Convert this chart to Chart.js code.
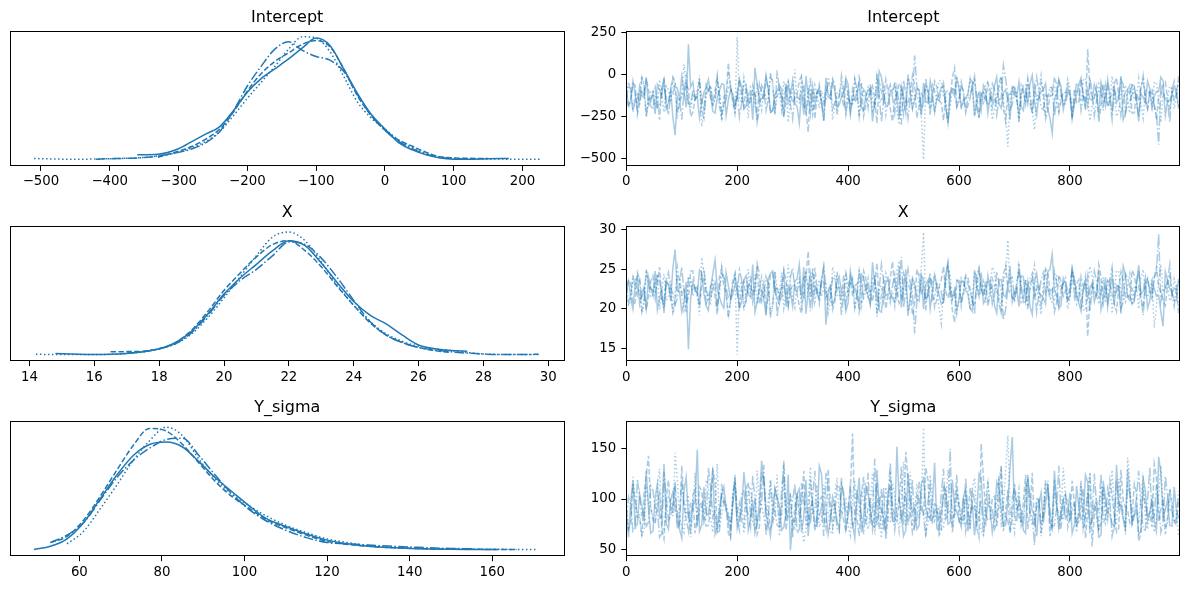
<!DOCTYPE html>
<html><head><meta charset="utf-8">
<script src="https://cdn.jsdelivr.net/npm/chart.js@4.4.0/dist/chart.umd.min.js"></script>
<style>
html,body{margin:0;padding:0;background:#fff;width:1189px;height:590px;overflow:hidden;position:relative}
canvas{position:absolute}
</style></head><body>
<canvas id="p0"></canvas><canvas id="p1"></canvas><canvas id="p2"></canvas>
<canvas id="p3"></canvas><canvas id="p4"></canvas><canvas id="p5"></canvas>
<script>
// ---------------- DATA ----------------
const paramNames = ["Intercept", "X", "Y_sigma"];
const drawStep = 8; // "A" arrays: draws 0,8,16,... ; "B" arrays: draws 4,12,20,...

// KDE grids and per-chain densities (relative, null = outside chain's range)
const interceptKdeX = [-510,-480,-450,-420,-390,-360,-330,-300,-280,-260,-240,-220,-200,-180,-160,-140,-120,-100,-80,-60,-40,-20,0,20,40,60,80,100,120,150,180,225];
const interceptKde0 = [null,null,null,null,null,0.04,0.045,0.09,0.15,0.21,0.27,0.40,0.55,0.66,0.74,0.82,0.91,0.99,0.93,0.74,0.54,0.37,0.25,0.14,0.08,0.04,0.015,0.005,0.004,0.008,0.01,null];
const interceptKde1 = [0.01,0.006,0.004,0.006,0.01,0.015,0.03,0.06,0.10,0.15,0.23,0.36,0.50,0.63,0.76,0.90,1.0,0.99,0.88,0.68,0.47,0.34,0.25,0.16,0.10,0.05,0.02,0.01,0.007,0.006,0.005,0.004];
const interceptKde2 = [null,null,null,null,null,null,0.02,0.07,0.11,0.17,0.25,0.39,0.56,0.70,0.80,0.87,0.94,0.97,0.92,0.74,0.52,0.36,0.24,0.16,0.11,0.06,0.025,0.015,0.012,0.01,null,null];
const interceptKde3 = [null,null,null,0.005,0.01,0.015,0.03,0.06,0.09,0.14,0.23,0.40,0.60,0.76,0.90,0.96,0.89,0.84,0.81,0.72,0.53,0.36,0.24,0.15,0.09,0.045,0.02,0.01,0.005,null,null,null];

const xKdeX = [14.2,14.8,15.5,16,16.5,17,17.5,18,18.5,19,19.5,20,20.5,21,21.5,22,22.5,23,23.5,24,24.5,25,25.5,26,26.5,27,27.5,28,28.5,29,29.7];
const xKde0 = [null,0.012,0.006,0.004,0.006,0.012,0.025,0.05,0.10,0.19,0.33,0.49,0.62,0.73,0.84,0.92,0.88,0.74,0.58,0.43,0.32,0.25,0.16,0.08,0.05,0.035,0.03,null,null,null,null];
const xKde1 = [0.005,0.004,0.003,0.003,0.005,0.012,0.025,0.05,0.09,0.17,0.30,0.46,0.63,0.80,0.95,0.99,0.92,0.75,0.56,0.40,0.27,0.17,0.11,0.07,0.05,0.035,0.02,0.008,0.004,0.003,0.004];
const xKde2 = [null,null,null,null,0.025,0.027,0.03,0.05,0.10,0.20,0.35,0.52,0.66,0.79,0.89,0.92,0.84,0.71,0.55,0.40,0.26,0.16,0.10,0.06,0.035,0.02,null,null,null,null,null];
const xKde3 = [null,null,null,null,null,0.015,0.025,0.05,0.09,0.18,0.32,0.48,0.60,0.69,0.80,0.91,0.89,0.78,0.62,0.44,0.27,0.16,0.10,0.06,0.04,0.025,0.015,0.007,0.004,0.004,0.005];

const sigmaKdeX = [49,53,57,61,65,69,73,77,81,85,89,93,97,101,105,110,115,120,125,130,135,140,145,150,155,161,166,171];
const sigmaKde0 = [0.005,0.03,0.09,0.22,0.41,0.60,0.76,0.85,0.87,0.83,0.71,0.58,0.47,0.36,0.26,0.19,0.13,0.08,0.05,0.03,0.02,0.012,0.008,0.006,0.005,0.004,null,null];
const sigmaKde1 = [null,null,0.05,0.15,0.33,0.52,0.72,0.88,0.99,0.92,0.73,0.57,0.45,0.36,0.28,0.20,0.14,0.09,0.06,0.035,0.022,0.015,0.01,0.008,0.007,0.006,0.005,0.004];
const sigmaKde2 = [null,0.06,0.11,0.24,0.43,0.64,0.84,0.98,0.96,0.85,0.70,0.55,0.43,0.34,0.25,0.18,0.12,0.07,0.045,0.03,0.02,0.015,0.01,0.008,0.006,0.005,0.004,null];
const sigmaKde3 = [null,0.06,0.12,0.22,0.40,0.58,0.72,0.82,0.89,0.90,0.76,0.60,0.45,0.33,0.24,0.16,0.10,0.06,0.05,0.04,0.032,0.025,0.018,0.013,0.01,null,null,null];

// Trace values, 4 chains; A = draws 0,8,16..., B = draws 4,12,20...
const interceptTrace0A = [-95,-160,-120,-70,-140,-185,-110,-60,-130,-205,-90,-362,-150,-100,180,-45,-135,-170,-85,-120,-230,-95,-60,-150,-115,
 -140,-75,-190,-105,40,-160,-125,-85,-215,-100,-150,-55,-120,-175,-290,-240,-130,-70,-110,-165,-20,-135,-95,-180,-115,
 -60,-145,-100,-200,-125,-80,-155,20,-120,-185,-95,-140,-70,-230,-110,-155,-90,-50,-170,-120,-145,-75,-195,-105,-130,
 -85,-160,-115,-40,-140,-210,-95,-125,-65,-175,-110,-150,-80,-135,-190,-100,-55,-160,-125,-90,-205,-350,-115,-70,-145,
 -100,-175,-60,-130,-90,-155,-110,-45,-185,-120,-80,-140,-270,-95,-60,-150,-115,-170,-85,-130,-100,-40,-160,-120,-90];
const interceptTrace0B = [-180,-40,-210,-125,-15,-165,-235,-90,-20,-170,-255,-130,-10,-195,-75,-150,-260,-105,-30,-220,-140,-55,-245,-95,-180,
 -25,-205,-115,-270,-60,-145,-5,-225,-120,-65,-250,-170,-35,-190,-100,-10,-235,-150,-80,-275,-115,-45,-200,-135,-20,
 -240,-155,-50,-215,-95,-280,-130,-15,-185,-110,-60,-265,-140,0,-205,-85,-245,-160,-40,-225,-120,-70,-290,-100,-25,
 -195,-140,-30,-250,-110,-65,-230,-160,-15,-200,-90,-270,-125,-45,-215,-175,-5,-240,-105,-55,-260,-150,-35,-210,-85,
 -265,-120,-20,-185,-145,-60,-250,-95,-30,-220,-170,-10,-235,-115,-70,-280,-135,-40,-195,-100,-15,-245,-155,-75,-205];
const interceptTrace1A = [-130,-80,-175,-110,-55,-150,-95,-200,-120,-70,-165,-105,-140,60,-185,-115,-90,-310,-125,-65,-145,-100,-180,0,-135,
 222,-160,-110,-75,-195,-130,-85,-150,-60,-120,-210,-100,-140,30,-170,-115,-80,-235,-125,-95,-155,-70,-190,-105,-135,
 -90,-165,-120,-50,-145,-100,-185,-130,-75,-160,-110,-220,-85,-140,-60,-125,-175,-508,-95,-150,-115,-40,-135,-195,-105,
 -70,-150,-125,-95,-180,-110,-55,-140,-205,-100,-160,-430,-85,-130,-65,-170,-115,-330,-90,-145,-120,-60,-185,-105,-135,
 -80,-155,-115,-35,-140,-190,-100,-125,-70,-165,-110,-215,-90,-145,-60,-130,-175,-95,-120,-50,-160,-105,-140,-85,-125];
const interceptTrace1B = [-45,-215,-140,-10,-250,-105,-175,-30,-225,-90,-15,-265,-130,-60,-205,-160,-5,-240,-85,-190,-35,-275,-120,-70,-230,
 -155,-20,-260,-100,-50,-210,-145,10,-235,-115,-40,-285,-95,-170,-25,-245,-130,-65,-200,-160,-15,-270,-110,-55,-220,
 -185,-30,-250,-125,-75,-215,5,-160,-240,-95,-45,-300,-140,-20,-195,-110,-255,-60,-175,-225,-35,-135,-265,-80,-10,
 -205,-150,-25,-245,-100,-180,-50,-270,-120,-15,-230,-165,-70,-290,-105,-40,-210,-145,-5,-255,-125,-60,-220,-175,-30,
 -240,-90,-160,-20,-275,-130,-55,-215,-185,-10,-250,-110,-65,-230,-150,-25,-260,-95,-195,-45,-285,-140,-70,-205,-35];
const interceptTrace2A = [-110,-145,-65,-170,-120,-90,-200,-135,-75,-155,-100,-45,-180,-125,-85,-225,-115,-150,-60,-140,-95,-190,-130,70,-165,
 -105,-135,-80,-175,-120,-55,-150,-95,-210,-130,-70,-160,-110,-140,-35,-185,-344,-100,-125,-165,-85,-145,-60,-115,-195,
 -125,-90,-150,-70,-180,-110,-140,-45,-160,-100,-280,-120,-80,-155,-115,-60,-190,-135,-95,-145,-75,-170,-105,-130,40,
 -150,-100,-185,-65,-130,-115,-165,-90,-140,-50,-200,-120,-80,-155,-105,-175,-135,-70,-145,-95,-215,-125,-60,-160,-110,
 -140,-85,-170,-115,150,-135,-75,-190,-100,-145,-55,-125,-160,-90,-230,-115,-70,-150,-105,-180,-130,-65,-140,-95,-120];
const interceptTrace2B = [-200,-55,-240,-100,-25,-190,-130,-270,-70,-165,-15,-225,-115,-60,-250,-145,-35,-210,-90,-180,-5,-260,-125,-75,-235,
 -30,-195,-150,-65,-280,-110,-20,-230,-140,-85,-255,-45,-170,-120,-10,-215,-95,-265,-60,-185,-135,-25,-245,-105,-50,
 -220,-160,-15,-250,-125,-70,-290,-100,-30,-205,-145,-55,-235,-175,-5,-260,-115,-80,-215,-40,-155,-275,-95,-20,-190,
 -65,-230,-140,-35,-255,-110,-50,-200,-165,-10,-280,-120,-75,-240,-90,-25,-210,-150,-45,-265,-130,-15,-225,-105,-60,
 -250,-170,-30,-215,-80,-140,-285,-55,-195,-120,-20,-245,-100,-65,-230,-160,-35,-205,-85,-270,-125,-45,-220,-150,-10];
const interceptTrace3A = [-150,-95,-130,-180,-70,-140,-115,-200,-85,-160,-125,-50,-145,-105,-175,-90,-135,-215,-110,-65,-155,-120,-185,-80,-140,
 -100,-170,-60,-130,-115,-195,-90,-145,-40,25,-125,-85,-180,-110,-150,-70,-135,-205,-100,-155,-120,-75,-165,-140,-95,
 -130,-175,-85,-145,-110,-55,-190,-120,-160,-95,-135,-80,-300,-115,-150,113,-105,-170,-130,-65,-145,-100,-185,-125,-90,
 -160,-115,-140,-75,-195,-105,-130,-165,-90,-150,55,-120,-180,-110,-140,-60,-170,-125,-95,-210,-135,-85,-155,-115,-175,
 -100,-145,-70,-130,-190,-110,-155,-85,-125,-165,-95,-140,-60,-175,-120,-150,-80,-135,-105,-185,-419,-115,-160,-90,-130];
const interceptTrace3B = [-60,-225,-110,-20,-255,-145,-75,-200,-30,-240,-120,-85,-270,-15,-185,-135,-50,-260,-95,-165,-25,-230,-150,-70,-210,
 -255,-40,-180,-120,-285,-65,-215,-10,-245,-100,-160,-45,-265,-130,-80,-225,-20,-190,-115,-275,-55,-205,-140,-5,-235,
 -170,-30,-250,-90,-200,-145,-15,-280,-110,-60,-230,-175,-35,-260,-125,-70,-215,-20,-240,-100,-155,-50,-295,-85,-195,
 -45,-220,-130,-10,-265,-105,-185,-55,-240,-145,-25,-205,-90,-275,-60,-160,-235,-15,-195,-120,-75,-250,-35,-175,-110,
 -260,-50,-215,-140,-20,-245,-95,-180,-65,-270,-125,-30,-230,-160,-85,-255,-5,-200,-115,-240,-70,-150,-285,-40,-190];

const xTrace0A = [22.4,21.3,23.1,20.6,22.8,24.0,21.7,19.9,22.5,23.6,21.0,27.5,22.2,20.8,14.9,23.4,21.9,24.5,20.4,22.7,26.2,21.5,20.1,22.9,21.8,
 23.3,20.9,24.2,21.6,19.6,22.6,21.2,23.8,24.8,21.4,22.9,20.3,22.1,23.5,25.6,25.3,22.4,20.7,21.9,23.7,18.0,22.8,21.3,24.1,22.0,
 20.8,23.0,21.7,24.4,22.3,20.5,23.2,19.8,22.0,23.9,21.4,22.7,20.2,25.0,21.6,23.1,21.0,20.0,23.6,22.2,22.9,20.6,24.3,21.5,22.5,
 21.2,23.4,21.9,19.7,22.8,24.6,21.3,22.4,20.4,23.7,21.8,23.0,20.9,22.6,24.2,21.1,20.3,23.5,22.1,21.4,24.7,26.9,21.7,20.5,23.2,
 21.6,23.8,20.7,22.5,21.3,23.3,22.0,19.9,24.0,22.3,20.8,22.9,25.4,21.5,20.6,23.1,21.9,23.9,21.0,22.6,21.7,17.8,23.6,22.2,21.1];
const xTrace0B = [23.5,20.0,24.1,21.9,19.9,22.7,24.8,21.4,19.5,23.1,25.2,22.3,19.6,23.4,21.2,22.5,24.9,21.9,19.8,24.4,22.6,20.6,24.6,21.3,23.1,
 20.1,23.7,21.8,25.6,20.9,22.4,19.2,24.5,22.1,20.6,24.7,22.9,20.3,23.8,21.4,19.4,24.4,22.8,21.3,25.2,21.7,20.5,23.6,22.2,19.7,
 24.8,22.6,20.4,24.0,21.7,25.9,22.1,19.6,23.3,21.9,20.8,25.3,22.5,19.1,23.9,21.2,24.6,23.0,20.0,24.3,21.8,21.0,25.7,21.5,19.8,
 23.6,22.3,20.1,24.9,21.6,20.7,24.2,22.8,19.5,23.7,21.5,25.4,22.2,20.3,24.1,23.4,19.3,24.5,21.7,20.6,25.0,22.4,20.0,23.9,21.1,
 25.1,21.9,19.7,23.5,22.6,20.9,24.8,21.3,20.2,24.3,23.0,19.4,24.4,21.8,21.0,25.5,22.2,20.1,23.4,21.6,19.6,24.7,22.6,21.1,23.8];
const xTrace1A = [22.6,21.0,23.9,22.2,20.5,23.3,21.8,24.4,22.4,21.1,23.6,21.9,22.9,19.8,24.1,22.3,21.6,26.5,22.5,20.7,23.2,21.7,24.0,19.3,23.0,
 14.2,23.5,22.1,21.2,24.3,22.7,21.4,23.1,20.6,22.4,24.6,21.8,23.0,20.2,23.8,22.1,21.3,25.2,22.6,21.6,23.4,20.9,24.2,21.9,22.8,
 21.5,23.7,22.3,20.4,23.2,21.9,24.1,22.7,21.0,23.6,22.2,24.9,21.4,22.9,20.8,22.5,23.9,29.7,21.7,23.3,22.4,18.2,22.8,24.3,21.8,
 21.2,23.4,22.6,21.6,24.0,22.1,20.7,23.0,24.5,21.9,23.5,28.7,21.5,22.8,20.9,23.7,22.3,25.5,21.4,23.2,22.5,20.6,24.2,22.0,22.9,
 21.3,23.6,22.4,19.9,23.1,24.3,21.8,22.7,20.8,23.8,22.2,24.8,21.6,23.0,20.5,22.9,23.9,21.7,22.6,17.6,23.5,22.1,23.2,21.4,22.7];
const xTrace1B = [20.4,24.2,22.5,19.5,24.9,21.5,23.3,19.9,24.4,21.4,19.6,25.2,22.1,20.8,23.8,22.9,19.2,24.6,21.1,23.6,20.3,25.4,22.0,21.0,24.3,
 22.8,19.8,25.0,21.6,20.6,24.0,22.5,18.9,24.7,21.8,20.1,25.6,21.4,23.1,19.9,24.8,22.3,20.9,23.7,22.7,19.5,25.3,21.7,20.7,24.2,
 23.4,20.0,24.9,22.0,21.2,24.1,19.0,22.9,24.5,21.5,20.4,26.1,22.6,19.7,23.6,21.8,25.1,20.8,23.2,24.3,20.2,22.4,25.2,21.2,19.4,
 23.9,22.6,19.9,24.7,21.7,23.4,20.5,25.3,22.1,19.6,24.3,23.0,21.0,25.8,21.6,20.3,24.0,22.4,19.3,25.0,22.0,20.9,24.1,23.2,20.0,
 24.6,21.3,22.9,19.8,25.4,22.2,20.6,24.0,23.5,19.4,24.8,21.9,20.9,24.4,22.7,20.0,25.0,21.5,23.6,20.3,25.6,22.5,21.0,23.8,20.2];
const xTrace2A = [22.0,23.1,20.8,23.7,22.4,21.5,24.2,22.9,21.2,23.4,21.9,20.5,23.9,22.6,21.4,24.8,22.1,23.2,20.7,22.9,21.6,24.0,22.8,18.9,23.5,
 22.2,22.9,21.3,23.8,22.5,20.6,23.3,21.7,24.5,22.8,21.1,23.6,22.3,22.9,20.3,24.0,27.3,21.9,22.6,23.5,21.4,23.1,20.9,22.4,24.3,
 22.7,21.6,23.2,20.9,23.9,22.3,23.0,20.4,23.5,21.8,26.0,22.5,21.3,23.4,22.4,20.8,24.1,22.9,21.7,23.1,21.2,23.7,22.1,22.8,18.3,
 23.2,21.9,24.0,20.9,22.8,22.5,23.6,21.6,22.9,20.6,24.4,22.6,21.4,23.4,22.2,23.8,22.9,21.1,23.1,21.8,24.7,22.7,20.8,23.5,22.3,
 23.0,21.5,23.7,22.4,16.5,22.9,21.3,24.1,22.0,23.2,20.7,22.7,23.5,21.7,24.9,22.4,21.2,23.3,22.1,23.9,22.8,21.0,23.0,21.9,22.5];
const xTrace2B = [23.7,20.6,24.6,21.5,19.9,23.5,22.2,25.3,21.0,23.0,19.5,24.2,21.9,20.8,24.8,22.4,20.3,24.0,21.3,23.2,19.3,25.1,22.0,21.1,24.5,
 20.1,23.5,22.7,20.9,25.6,21.7,19.8,24.4,22.3,21.4,24.9,20.4,23.1,22.0,19.4,24.2,21.5,25.2,20.7,23.4,22.3,19.9,24.7,21.6,20.6,
 24.1,22.9,19.6,24.8,22.1,20.9,25.8,21.6,20.0,23.9,22.6,20.7,24.5,23.2,19.2,25.0,21.8,21.2,24.0,20.2,22.8,25.4,21.4,19.8,23.6,
 20.9,24.3,22.4,20.2,24.9,21.7,20.5,23.8,23.0,19.5,25.5,22.0,21.2,24.6,21.4,19.9,24.0,22.6,20.4,25.1,22.2,19.6,24.3,21.6,20.8,
 24.8,23.2,20.1,24.1,21.2,22.4,25.6,20.6,23.6,21.9,19.7,24.7,21.5,20.9,24.3,22.9,20.2,23.9,21.3,25.3,22.1,20.4,24.2,22.6,19.4];
const xTrace3A = [23.3,21.8,22.7,23.9,21.1,23.0,22.4,24.4,21.5,23.6,22.6,20.6,23.2,22.2,23.8,21.6,22.8,24.6,22.3,21.2,23.4,22.7,24.1,21.4,23.1,
 22.0,23.7,20.9,22.8,22.5,24.3,21.7,23.2,20.3,19.0,22.8,21.6,24.0,22.4,23.3,21.2,22.9,24.5,22.1,23.4,22.6,21.4,23.8,23.0,21.8,
 22.9,23.9,21.7,23.1,22.3,20.8,24.2,22.6,23.5,21.9,22.9,21.5,26.6,22.4,23.3,16.9,22.0,23.8,22.9,21.1,23.2,22.1,24.1,22.7,21.8,
 23.6,22.4,23.1,21.4,24.3,22.2,22.8,23.7,21.7,23.3,18.6,22.6,24.0,22.3,23.1,20.9,23.8,22.7,21.9,24.6,22.9,21.6,23.4,22.5,23.9,
 22.1,23.2,21.3,22.9,24.2,22.3,23.5,21.8,22.7,23.7,21.9,23.1,20.8,23.9,22.6,23.3,21.5,22.9,22.4,24.0,29.5,22.5,23.6,21.7,22.8];
const xTrace3B = [20.8,24.2,21.8,19.7,25.0,22.5,21.2,23.7,20.0,24.6,22.0,21.3,25.3,19.6,23.4,22.3,20.5,25.1,21.5,22.9,19.9,24.4,22.7,21.0,24.0,
 24.9,20.3,23.2,22.1,25.7,20.9,24.1,19.4,24.7,21.6,22.9,20.4,25.2,22.2,21.3,24.3,19.7,23.5,21.8,25.4,20.7,23.9,22.4,19.2,24.5,
 23.1,20.1,24.8,21.4,23.8,22.6,19.5,25.6,21.7,20.8,24.3,23.3,20.2,25.0,22.1,21.0,24.1,19.8,24.6,21.5,22.8,20.6,25.9,21.3,23.6,
 20.4,24.2,22.3,19.4,25.2,21.6,23.4,20.6,24.7,22.5,19.9,23.9,21.4,25.4,20.8,22.9,24.5,19.6,23.7,22.0,21.2,24.8,20.2,23.2,21.8,
 25.1,20.6,24.1,22.4,19.7,24.8,21.5,23.3,20.9,25.3,22.1,20.0,24.4,22.8,21.3,24.9,19.2,23.7,21.8,24.6,21.0,22.6,25.6,20.3,23.5];

const sigmaTrace0A = [84,97,72,105,79,91,68,115,83,76,99,88,70,108,81,94,149,74,86,102,65,90,112,78,95,
 71,87,104,80,66,96,118,75,89,101,69,85,49.2,77,110,82,63,98,73,125,86,79,93,70,106,
 84,76,99,67,113,88,72,94,81,107,78,152,85,69,100,91,74,120,83,96,71,87,109,77,92,
 80,103,68,95,86,121,75,90,82,111,73,97,161.6,79,88,66,104,84,93,76,115,70,98,87,81,
 106,74,92,83,117,78,89,64,101,85,72,96,80,130,75,90,68,108,86,79,142,82,99,73,88];
const sigmaTrace0B = [62,118,75,93,128,66,101,81,135,70,107,88,61,122,79,97,68,112,84,131,73,104,90,64,116,
 82,127,69,99,76,138,87,63,110,94,72,124,80,105,67,119,91,74,133,85,65,102,78,114,71,
 96,61,121,83,106,74,129,89,66,111,77,98,63,126,86,70,115,92,81,136,68,103,75,119,87,
 72,109,84,64,125,79,97,67,117,90,74,132,82,101,69,120,88,63,106,95,77,128,71,99,85,
 66,113,80,124,73,94,62,118,86,76,134,91,70,107,83,65,121,78,100,68,126,89,74,112,81];
const sigmaTrace1A = [92,78,101,85,70,96,83,110,74,89,98,146,81,67,104,88,76,94,119,80,91,72,99,86,107,
 77,93,84,112,69,95,82,100,75,124,87,79,103,71,90,57,97,85,114,78,92,68,106,83,96,
 74,99,86,109,80,93,65,102,88,77,116,84,95,73,127,89,81,171,76,100,87,70,94,105,82,
 97,75,90,111,84,68,101,87,79,123,92,163,80,96,74,106,85,78,99,88,118,72,93,83,103,
 79,95,86,71,108,90,82,113,76,98,87,120,84,141,73,94,102,80,89,67,105,91,77,97,85];
const sigmaTrace1B = [71,122,86,64,113,92,76,130,68,104,83,119,73,97,62,126,88,79,111,67,135,84,95,74,116,
 88,66,109,78,128,94,70,117,85,63,123,99,75,106,81,69,132,90,72,114,87,65,121,80,101,
 64,118,83,97,70,126,89,61,112,77,104,68,137,85,73,115,95,66,124,79,92,71,129,86,108,
 75,103,69,121,87,64,116,80,98,72,127,90,67,110,84,122,74,96,63,119,82,105,70,131,93,
 86,67,114,79,125,91,68,107,83,129,74,100,65,118,89,76,123,70,96,81,133,72,110,87,64];
const sigmaTrace2A = [88,75,96,82,105,143,79,92,70,101,86,113,77,94,68,99,84,108,73,90,117,81,95,66,103,
 87,78,110,83,97,72,121,89,76,100,85,69,106,93,80,128,74,91,86,102,71,96,84,114,79,
 92,165,81,104,75,98,87,70,111,83,95,78,132,147,89,74,100,85,119,80,93,67,107,88,96,
 76,101,84,90,72,155,86,79,103,94,68,109,82,97,77,124,88,73,99,85,112,80,92,70,105,
 83,96,78,110,87,53,101,75,93,118,84,71,98,89,79,106,66,94,86,135,77,100,82,91,74];
const sigmaTrace2B = [70,115,82,63,124,91,76,108,60,119,87,72,133,80,97,66,112,85,74,128,69,103,93,61,121,
 96,73,117,84,65,125,90,71,110,78,138,86,62,106,94,75,120,68,99,83,130,72,113,88,67,
 109,79,63,122,92,70,116,85,60,127,81,98,74,118,66,104,89,131,77,95,64,114,87,71,124,
 83,68,111,94,62,121,79,101,73,134,88,66,115,82,97,70,126,91,76,108,63,119,85,99,72,
 118,74,97,61,126,86,70,112,80,103,67,129,92,76,115,58,107,84,72,122,90,65,110,79,100];
const sigmaTrace3A = [80,94,71,102,86,77,109,90,66,98,83,118,75,92,87,104,73,96,81,112,89,68,100,84,95,
 78,106,91,72,99,85,134,79,93,74,108,88,82,115,70,97,86,103,76,92,126,81,95,67,100,
 87,73,110,84,96,78,140,91,69,102,85,94,77,107,88,72,117,83,98,75,92,105,80,150,86,
 95,79,88,111,74,99,84,93,70,122,87,78,101,90,76,108,83,54,97,85,114,72,91,81,103,
 77,96,89,71,107,84,93,125,80,98,73,90,86,113,78,101,92,69,131,83,95,76,104,88,82];
const sigmaTrace3B = [102,68,120,84,73,113,91,62,127,79,96,70,118,86,65,109,94,76,131,82,67,115,89,74,124,
 69,108,85,123,76,97,64,119,88,72,134,81,99,66,116,90,75,128,83,63,112,93,71,121,86,
 115,78,94,65,126,87,73,110,82,136,69,101,92,74,119,80,97,62,113,88,76,130,84,67,105,
 80,121,71,98,86,64,117,91,76,129,83,68,111,95,73,124,85,102,66,116,89,74,133,79,97,
 93,72,118,84,66,125,88,77,110,63,119,96,74,106,85,128,70,99,81,114,67,123,90,76,108];

// Axis limits and tick labels
const interceptRange = [-545, 261];
const xRange = [13.4, 30.5];
const sigmaRange = [43.2, 177.5];
const interceptKdeTicks = [-500,-400,-300,-200,-100,0,100,200];
const xKdeTicks = [14,16,18,20,22,24,26,28,30];
const sigmaKdeTicks = [60,80,100,120,140,160];
const drawTicks = [0,200,400,600,800];
const drawRange = [0, 999];
const interceptTraceTicks = [-500,-250,0,250];
const xTraceTicks = [15,20,25,30];
const sigmaTraceTicks = [50,100,150];

// ---------------- STYLE / LAYOUT ----------------
const FONT = '"DejaVu Sans", Verdana, sans-serif';
Chart.defaults.font.family = FONT;
Chart.defaults.font.size = 13.33;
Chart.defaults.color = '#000';
const BLUE = '#1f77b4';
const TRACE_COL = 'rgba(31,119,180,0.38)';
const KDE_DASH = [[], [1.5,2.5], [5.5,2.4], [9.6,2.4,1.5,2.4]];
const TRACE_DASH = [[], [1.5,2.5], [5.5,2.4], [9.6,2.4,1.5,2.4]];
const COLS = [[10, 564.5], [626.3, 1180.3]];
const ROWS = [30.7, 225.9, 421];
const PH = 135.2;

const fmt = v => (v < 0 ? '\u2212' : '') + Math.abs(v);

const framePlugin = {id:'frame', afterDraw(chart){
  const a = chart.chartArea, c = chart.ctx;
  c.save(); c.strokeStyle = '#000'; c.lineWidth = 1;
  const l = Math.round(a.left) + 0.5, t = Math.round(a.top) + 0.5;
  const r = Math.round(a.right) - 0.5, b = Math.round(a.bottom) - 0.5;
  c.strokeRect(l, t, r - l, b - t); c.restore();
}};
const titlePlugin = {id:'ptitle', afterDraw(chart, args, o){
  const a = chart.chartArea, c = chart.ctx;
  c.save(); c.font = '16px ' + FONT; c.fillStyle = '#000';
  c.textAlign = 'center'; c.textBaseline = 'alphabetic';
  c.fillText(o.text, (a.left + a.right) / 2, a.top - 9); c.restore();
}};

function axisCommon(ticks, pad) {
  return {
    afterBuildTicks: s => { s.ticks = ticks.map(v => ({value: v})); },
    ticks: {callback: v => fmt(v), padding: pad, autoSkip: false, maxRotation: 0, color: '#000'},
    grid: {display: true, drawOnChartArea: false, drawTicks: true, tickLength: 5, tickColor: '#000', lineWidth: 1},
    border: {display: false}
  };
}

function panel(id, col, row, title, datasets, xr, xTicks, yr, yTicks) {
  const aL = COLS[col][0], aR = COLS[col][1], aT = ROWS[row], aB = aT + PH;
  const yW = yTicks ? 55 : 0;
  const padL = col === 0 ? 10 : 60, padR = 6, padT = 28, padB = 30, xH = 24;
  const cl = Math.floor(aL - padL), ct = Math.floor(aT - padT);
  const cw = Math.ceil(aR + padR) - cl, ch = Math.ceil(aB + padB) - ct;
  const cv = document.getElementById(id);
  cv.style.left = cl + 'px'; cv.style.top = ct + 'px';
  cv.style.width = cw + 'px'; cv.style.height = ch + 'px';
  cv.width = cw; cv.height = ch;
  const xs = Object.assign({type: 'linear', min: xr[0], max: xr[1], afterFit: s => { s.height = xH; }}, axisCommon(xTicks, 3));
  const ys = yTicks
    ? Object.assign({type: 'linear', min: yr[0], max: yr[1], position: 'left', afterFit: s => { s.width = yW; }}, axisCommon(yTicks, 5))
    : {type: 'linear', display: false, min: yr[0], max: yr[1]};
  new Chart(cv, {
    type: 'line',
    data: {datasets},
    options: {
      responsive: false, animation: false, events: [],
      layout: {padding: {left: aL - cl - yW, top: aT - ct, right: cl + cw - aR, bottom: ct + ch - aB - xH}},
      plugins: {legend: {display: false}, tooltip: {enabled: false}, ptitle: {text: title}},
      scales: {x: xs, y: ys}
    },
    plugins: [framePlugin, titlePlugin]
  });
}

function kdeSets(grid, chains) {
  return chains.map((ys, k) => ({
    data: grid.map((x, i) => ({x, y: ys[i]})),
    borderColor: BLUE, borderWidth: 1.5, borderDash: KDE_DASH[k],
    pointRadius: 0, fill: false, spanGaps: false, cubicInterpolationMode: 'monotone'
  }));
}
function traceSets(chains) {
  return chains.map(([A, B], k) => ({
    data: A.flatMap((v, i) => [{x: i * drawStep, y: v}, {x: i * drawStep + drawStep / 2, y: B[i]}]),
    borderColor: TRACE_COL, borderWidth: 1.5, borderDash: TRACE_DASH[k],
    pointRadius: 0, fill: false, tension: 0
  }));
}
function kdeRange(chains) {
  let m = 0; chains.forEach(a => a.forEach(v => { if (v !== null && v > m) m = v; }));
  return [-0.05 * m, 1.05 * m];
}

const iK = [interceptKde0, interceptKde1, interceptKde2, interceptKde3];
const xK = [xKde0, xKde1, xKde2, xKde3];
const sK = [sigmaKde0, sigmaKde1, sigmaKde2, sigmaKde3];

panel('p0', 0, 0, paramNames[0], kdeSets(interceptKdeX, iK), interceptRange, interceptKdeTicks, kdeRange(iK), null);
panel('p1', 1, 0, paramNames[0], traceSets([[interceptTrace0A, interceptTrace0B], [interceptTrace1A, interceptTrace1B], [interceptTrace2A, interceptTrace2B], [interceptTrace3A, interceptTrace3B]]), drawRange, drawTicks, interceptRange, interceptTraceTicks);
panel('p2', 0, 1, paramNames[1], kdeSets(xKdeX, xK), xRange, xKdeTicks, kdeRange(xK), null);
panel('p3', 1, 1, paramNames[1], traceSets([[xTrace0A, xTrace0B], [xTrace1A, xTrace1B], [xTrace2A, xTrace2B], [xTrace3A, xTrace3B]]), drawRange, drawTicks, xRange, xTraceTicks);
panel('p4', 0, 2, paramNames[2], kdeSets(sigmaKdeX, sK), sigmaRange, sigmaKdeTicks, kdeRange(sK), null);
panel('p5', 1, 2, paramNames[2], traceSets([[sigmaTrace0A, sigmaTrace0B], [sigmaTrace1A, sigmaTrace1B], [sigmaTrace2A, sigmaTrace2B], [sigmaTrace3A, sigmaTrace3B]]), drawRange, drawTicks, sigmaRange, sigmaTraceTicks);
</script>
</body></html>
